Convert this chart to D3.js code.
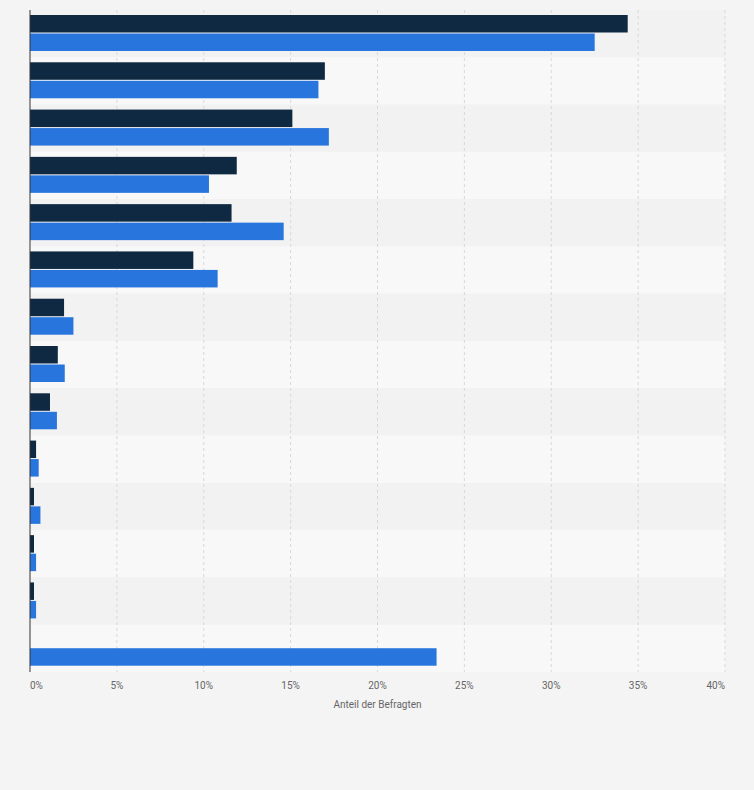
<!DOCTYPE html>
<html><head><meta charset="utf-8">
<script src="https://cdn.jsdelivr.net/npm/d3@7"></script>
<style>body{margin:0;background:#f4f4f4;font-family:Roboto,Arial,sans-serif}</style>
</head><body><div id="chart"></div>
<script>
const categories = d3.range(14).map(i => "c" + i);
const seriesDark = [34.4, 16.97, 15.1, 11.9, 11.6, 9.4, 1.96, 1.6, 1.15, 0.35, 0.23, 0.23, 0.23, null];
const seriesBlue = [32.5, 16.6, 17.2, 10.3, 14.6, 10.8, 2.5, 2.0, 1.55, 0.5, 0.6, 0.35, 0.35, 23.4];
const ticks = [0, 5, 10, 15, 20, 25, 30, 35, 40];

const W = 754, H = 790;
const m = {l: 30, r: 29, t: 10, b: 118};
const svg = d3.select('#chart').append('svg').attr('width', W).attr('height', H);
const x = d3.scaleLinear().domain([0, 40]).range([m.l, W - m.r]);
const y = d3.scaleBand().domain(categories).range([m.t, H - m.b]);

svg.selectAll('rect.band').data(categories).join('rect')
  .attr('x', m.l).attr('y', d => y(d)).attr('width', x(40) - m.l).attr('height', y.bandwidth())
  .attr('fill', (d, i) => i % 2 ? '#f8f8f8' : '#f2f2f2');

svg.selectAll('line.grid').data(ticks.slice(1)).join('line')
  .attr('x1', d => x(d)).attr('x2', d => x(d)).attr('y1', m.t).attr('y2', H - m.b)
  .attr('stroke', '#d8d8d8').attr('stroke-dasharray', '3,3');

const bh = 17.5, off = 5;
svg.selectAll('rect.dark').data(seriesDark.map((v, i) => ({v, c: categories[i]})).filter(d => d.v != null)).join('rect')
  .attr('x', x(0)).attr('y', d => y(d.c) + off).attr('width', d => x(d.v) - x(0)).attr('height', bh)
  .attr('fill', '#0f2942');
svg.selectAll('rect.blue').data(seriesBlue.map((v, i) => ({v, c: categories[i]}))).join('rect')
  .attr('x', x(0)).attr('y', d => y(d.c) + off + bh + 1).attr('width', d => x(d.v) - x(0)).attr('height', bh)
  .attr('fill', '#2876dd');

svg.append('line').attr('x1', m.l).attr('x2', m.l).attr('y1', m.t).attr('y2', H - m.b)
  .attr('stroke', '#333').attr('stroke-width', 1);

svg.selectAll('text.tick').data(ticks).join('text')
  .attr('x', d => x(d)).attr('y', H - m.b + 17)
  .attr('text-anchor', (d, i) => i === 0 ? 'start' : i === ticks.length - 1 ? 'end' : 'middle')
  .attr('font-size', 10).attr('fill', '#666').text(d => d + '%');
svg.append('text').attr('x', (m.l + W - m.r) / 2).attr('y', H - m.b + 36).attr('text-anchor', 'middle')
  .attr('font-size', 10).attr('fill', '#666').text('Anteil der Befragten');
</script></body></html>
